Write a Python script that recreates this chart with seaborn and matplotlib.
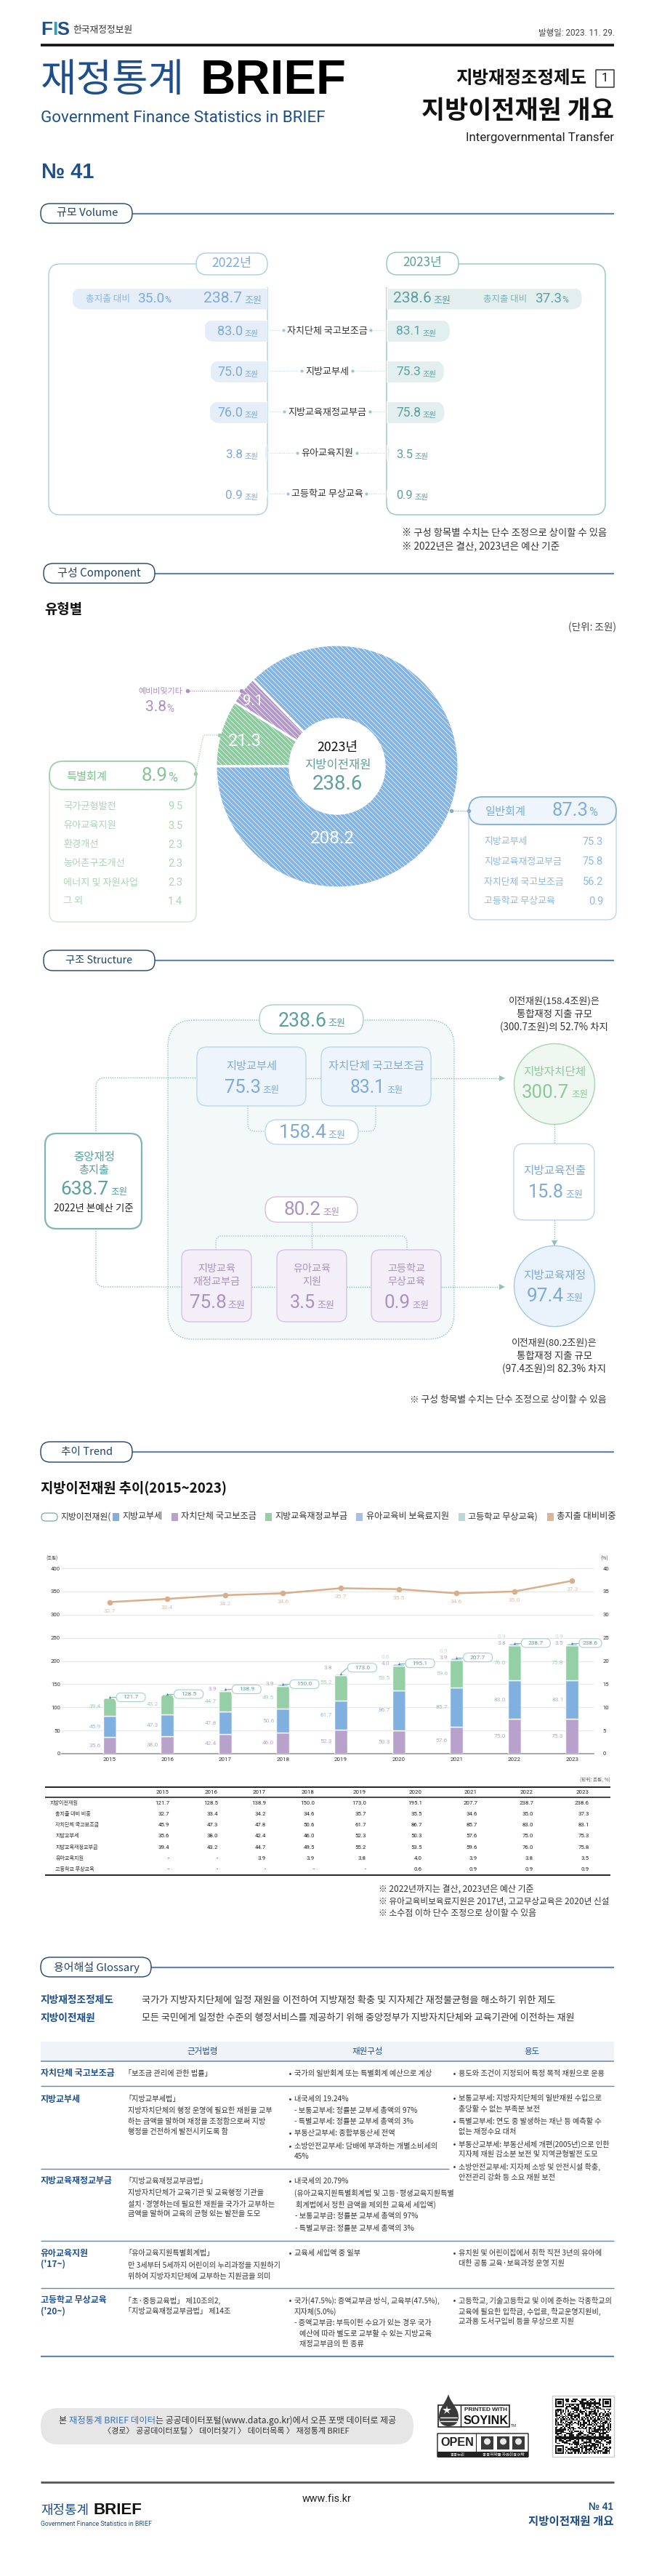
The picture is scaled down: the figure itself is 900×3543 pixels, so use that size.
import numpy as np
import pandas as pd
import matplotlib
matplotlib.use('Agg')
import matplotlib.pyplot as plt
import seaborn as sns
from matplotlib.patches import FancyBboxPatch, Rectangle, Circle, PathPatch
from matplotlib.path import Path
from matplotlib.transforms import IdentityTransform
import warnings, logging
warnings.filterwarnings('ignore')
logging.getLogger('matplotlib.font_manager').setLevel(logging.ERROR)

# ---------- data ----------
vol_labels = ['자치단체 국고보조금', '지방교부세', '지방교육재정교부금', '유아교육지원', '고등학교 무상교육']
vol_2022 = [83.0, 75.0, 76.0, 3.8, 0.9]
vol_2023 = [83.1, 75.3, 75.8, 3.5, 0.9]
vol_total_2022 = 238.7
vol_total_2023 = 238.6
share_2022 = 35.0
share_2023 = 37.3

pie_labels = ['특별회계', '예비비및기타', '일반회계']
pie_values = [21.3, 9.1, 208.2]
special_items = ['국가균형발전', '유아교육지원', '환경개선', '농어촌구조개선', '에너지 및 자원사업', '그 외']
special_vals = ['9.5', '3.5', '2.3', '2.3', '2.3', '1.4']
general_items = ['지방교부세', '지방교육재정교부금', '자치단체 국고보조금', '고등학교 무상교육']
general_vals = ['75.3', '75.8', '56.2', '0.9']

years = ['2015', '2016', '2017', '2018', '2019', '2020', '2021', '2022', '2023']
total = [121.7, 128.5, 138.9, 150.0, 173.0, 195.1, 207.7, 238.7, 238.6]
ratio = [32.7, 33.4, 34.2, 34.6, 35.7, 35.5, 34.6, 35.0, 37.3]
subsidy = [45.9, 47.3, 47.8, 50.6, 61.7, 86.7, 85.7, 83.0, 83.1]
grant = [35.6, 38.0, 42.4, 46.0, 52.3, 50.3, 57.6, 75.0, 75.3]
edu = [39.4, 43.2, 44.7, 49.5, 55.2, 53.5, 59.6, 76.0, 75.8]
child = [None, None, 3.9, 3.9, 3.8, 4.0, 3.9, 3.8, 3.5]
highsch = [None, None, None, None, None, 0.6, 0.9, 0.9, 0.9]
table_rows = ['지방이전재원', '총지출 대비 비중', '자치단체 국고보조금', '지방교부세',
              '지방교육재정교부금', '유아교육지원', '고등학교 무상교육']

# ---------- setup ----------
sns.set_theme(style='white')
KR = ['Noto Sans CJK KR', 'DejaVu Sans']
NR = ['Roboto', 'Noto Sans CJK KR', 'DejaVu Sans']
LB = ['Liberation Sans', 'DejaVu Sans']
plt.rcParams['font.family'] = KR
plt.rcParams['axes.unicode_minus'] = False
plt.rcParams['hatch.linewidth'] = 0.5

NAVY = '#1f4f8a'; BLUE = '#7daad8'; TEAL = '#5b9f9f'; PURPLE = '#a892c4'; GREEN = '#8fc79e'
C_BLUE = '#7fb0e0'; C_PUR = '#b8a1cb'; C_GRN = '#94cfa5'; C_PERI = '#aabfe4'; C_PALE = '#b9d8d6'; C_TAN = '#d9ae8a'
LINE = '#6685ad'; TXT = '#333333'

W, H = 900, 3543
fig = plt.figure(figsize=(W / 100, H / 100), dpi=100, facecolor='white')
R = fig.canvas.get_renderer()

def layer(z):
    a = fig.add_axes([0, 0, 1, 1], zorder=z)
    a.set_xlim(0, W); a.set_ylim(H, 0); a.axis('off'); a.patch.set_alpha(0)
    return a
bg = layer(0)
fg = layer(5)

def axpx(x0, y0, x1, y1, z=2):
    a = fig.add_axes([x0 / W, 1 - y1 / H, (x1 - x0) / W, (y1 - y0) / H], zorder=z)
    a.patch.set_alpha(0)
    return a

def T(x, y, s, pt, c=TXT, ha='left', w='normal', fam=KR, va='center', ax=None):
    return (ax or fg).text(x, y, s, fontsize=pt, color=c, ha=ha, va=va, fontweight=w, family=fam)

def fit(x0, x1, y, s, c=TXT, w='normal', fam=KR, ax=None, va='center'):
    t = (ax or fg).text(x0, y, s, fontsize=10, color=c, ha='left', va=va, fontweight=w, family=fam)
    size = 10.0
    for _ in range(4):
        wd = t.get_window_extent(R).width
        size *= (x1 - x0) / wd
        t.set_fontsize(size)
    return t

def val(x0, x1, ux0, ux1, y, s, c, unit='조원'):
    fit(x0, x1, y, s, c, fam=NR)
    fit(ux0, ux1, y + 3, unit, c)

def rbox(x0, y0, x1, y1, r, fc='none', ec='none', lw=1, ls='-', z=1, ax=None):
    p = FancyBboxPatch((x0, y0), x1 - x0, y1 - y0, boxstyle=f'round,pad=0,rounding_size={r}',
                       fc=fc, ec=ec, lw=lw, ls=ls, zorder=z)
    (ax or bg).add_patch(p)
    return p

def rline(pts, r=8, c='#8fc0bd', lw=1, ls=(0, (1, 1.2)), z=2, ax=None):
    pts = [np.array(p, float) for p in pts]
    v = [pts[0]]; code = [Path.MOVETO]
    for i in range(1, len(pts) - 1):
        a, b, d = pts[i - 1], pts[i], pts[i + 1]
        ra = min(r, np.linalg.norm(a - b) / 2); rd = min(r, np.linalg.norm(d - b) / 2)
        v += [b + (a - b) / np.linalg.norm(a - b) * ra, b, b + (d - b) / np.linalg.norm(d - b) * rd]
        code += [Path.LINETO, Path.CURVE3, Path.CURVE3]
    v.append(pts[-1]); code.append(Path.LINETO)
    (ax or bg).add_patch(PathPatch(Path(v, code), fc='none', ec=c, lw=lw, ls=ls, zorder=z))

def section(x0, x1, y0, y1, s, tx0, tx1):
    bg.plot([x1, 845], [(y0 + y1) / 2] * 2, color=LINE, lw=1.6, zorder=1, solid_capstyle='butt')
    rbox(x0, y0, x1, y1, 13, fc='white', ec='#1f4466', lw=1, z=2)
    fit(tx0, tx1, (y0 + y1) / 2, s, '#1f4466')

def round_bar(patch, side, r):
    b = patch.get_window_extent(R)
    x0, y0, x1, y1 = b.x0, b.y0, b.x1, b.y1
    e = 2 * r + 10
    if side == 'left': x1 += e
    if side == 'right': x0 -= e
    p = FancyBboxPatch((x0, y0), x1 - x0, y1 - y0, boxstyle=f'round,pad=0,rounding_size={r}',
                       transform=IdentityTransform())
    patch.set_clip_path(p)

# ---------- header ----------
fit(56, 72, 41, 'F', NAVY, 'bold', LB)
T(75.5, 41, 'I', 19, '#2f9fc4', ha='center', w='bold', fam=LB)
fit(78, 95, 41, 'S', NAVY, 'bold', LB)
fit(100, 182, 41, '한국재정정보원', '#333333')
fit(741, 845, 45, '발행일: 2023. 11. 29.', '#444444', fam=NR)
bg.plot([56, 845], [61.5, 61.5], color='#111111', lw=2.6, solid_capstyle='butt')
fit(56, 254, 111, '재정통계', NAVY)
fit(276, 477, 112, 'BRIEF', '#000000', 'bold', LB)
fit(56, 448, 163, 'Government Finance Statistics in BRIEF', NAVY, fam=NR)
fit(627, 807, 108, '지방재정조정제도', '#111111', 'bold')
rbox(820, 96, 845, 120, 0, fc='white', ec='#222222', lw=1)
T(832.5, 108, '1', 12, '#111111', ha='center', fam=NR)
fit(580, 845, 153, '지방이전재원 개요', '#111111', 'bold')
fit(641, 845, 189, 'Intergovernmental Transfer', '#222222', fam=NR)
fit(57, 129, 237, '№ 41', NAVY, 'bold', LB)

# ---------- volume ----------
section(56, 182, 280, 307, '규모 Volume', 78, 162)
PB = '#a9cde8'; PT = '#93c4c4'
rline([(270, 363), (67, 363), (67, 708), (368, 708), (368, 395)], r=16, c=PB, lw=1, ls='-', z=3)
rline([(631, 363), (833, 363), (833, 708), (532, 708), (532, 395)], r=16, c=PT, lw=1, ls='-', z=3)
rbox(270, 348, 368, 378, 15, fc='white', ec=PB, lw=1, z=4)
rbox(532, 347, 631, 378, 15, fc='white', ec=PT, lw=1, z=4)
fit(291, 346, 362, '2022년', BLUE)
fit(554, 608, 361, '2023년', TEAL)

def hbars(vals, x0, x1, xmax, y0, y1, color, invert):
    a = axpx(x0, y0, x1, y1)
    sns.barplot(x=vals, y=[str(i) for i in range(len(vals))], orient='h', color=color,
                saturation=1, width=30 / ((y1 - y0) / len(vals)), ax=a)
    a.set_xlim((xmax, 0) if invert else (0, xmax))
    a.set_ylim(len(vals) - 0.5, -0.5)
    a.axis('off')
    for p in a.patches:
        round_bar(p, 'left' if invert else 'right', 15)

PX_T = 269 / 238.7; PX_I = 1.05
hbars([vol_total_2022], 368 - 270, 368, 270 / PX_T, 395, 426, '#e4edf8', True)
hbars([vol_total_2023], 532, 532 + 270, 270 / PX_T, 395, 426, '#e3efef', False)
hbars(vol_2022, 368 - 150, 368, 150 / PX_I, 427, 707, '#e4edf8', True)
hbars(vol_2023, 532, 532 + 150, 150 / PX_I, 427, 707, '#e3efef', False)

vy = [455, 511, 567, 624, 680]
fit(118, 179, 411, '총지출 대비', '#8cb6de')
fit(189, 226, 411, f'{share_2022:.1f}', BLUE, fam=NR); fit(226, 235, 413, '%', BLUE, fam=NR)
val(280, 333, 336, 360, 411, f'{vol_total_2022:.1f}', BLUE)
val(541, 594, 596, 620, 411, f'{vol_total_2023:.1f}', TEAL)
fit(665, 725, 411, '총지출 대비', '#79b3b3')
fit(736, 773, 411, f'{share_2023:.1f}', TEAL, fam=NR); fit(773, 782, 413, '%', TEAL, fam=NR)
for i, (lab, a, b) in enumerate(zip(vol_labels, vol_2022, vol_2023)):
    y = vy[i]
    sm = a < 10
    val(310 if sm else 299, 334, 336, 355, y + 1, f'{a:.1f}', BLUE)
    val(545, 568 if sm else 579, 570 if sm else 581, 589 if sm else 600, y + 1, f'{b:.1f}', TEAL)
    t = T(450, y, lab, 9.4, '#333333', ha='center')
    wd = t.get_window_extent(R).width / 2
    fg.add_patch(Rectangle((450 - wd - 9, y - 9), 2 * wd + 18, 18, fc='white', ec='none', zorder=1))
    t.set_zorder(3)
    rline([(371, y - 1), (529, y - 1)], c='#c5dcdc', lw=.8, z=0.5, ax=fg)
    fg.plot([450 - wd - 5], [y - 1], 'o', ms=3, color='#9fc3e6', mew=0, zorder=4)
    fg.plot([450 + wd + 5], [y - 1], 'o', ms=3, color='#93c8c6', mew=0, zorder=4)
fit(553, 833, 733, '※ 구성 항목별 수치는 단수 조정으로 상이할 수 있음', TXT)
fit(553, 769, 751, '※ 2022년은 결산, 2023년은 예산 기준', TXT)

# ---------- component ----------
section(60, 213, 775, 802, '구성 Component', 79, 194)
fit(61, 113, 838, '유형별', '#111111', 'bold')
fit(782, 848, 863, '(단위: 조원)', '#444444')

apie = axpx(464 - 167, 1054 - 167, 464 + 167, 1054 + 167)
apie.pie(pie_values, startangle=180, counterclock=False, radius=1,
         colors=['#8ccb9f', '#b298c8', '#84b4e4'],
         wedgeprops=dict(width=1 - 0.39, edgecolor='white', linewidth=2.2, hatch='\\' * 5))
apie.set_xlim(-1, 1); apie.set_ylim(-1, 1)
for w_ in apie.patches:
    w_.set_clip_on(False)

fit(427, 488, 1154, f'{pie_values[2]:.1f}', 'white', fam=NR)
fit(314, 360, 1020, f'{pie_values[0]:.1f}', 'white', fam=NR)
fit(334, 362, 964, f'{pie_values[1]:.1f}', 'white', fam=NR)
fit(436, 492, 1028, '2023년', '#111111')
fit(419, 510, 1053, '지방이전재원', TEAL)
fit(430, 499, 1079, '238.6', TEAL, fam=NR)
fit(190, 251, 951, pie_labels[1], PURPLE)
fit(200, 229, 973, '3.8', PURPLE, fam=NR); fit(229, 239, 975, '%', PURPLE, fam=NR)
rline([(258, 950), (332, 950)], c=PURPLE, lw=.9, z=4, ax=fg)
fg.plot([258, 332], [950, 950], 'o', ms=4, color=PURPLE, mew=0)

CGE = '#9ccfa8'; CBE = '#7fadd8'
rbox(68, 1060, 270, 1268, 12, fc='white', ec='#cfe6d4', lw=1)
rbox(68, 1047, 270, 1086, 19, fc='white', ec=CGE, lw=1.3)
fit(91, 147, 1068, pie_labels[0], '#7fbf8f')
fit(195, 231, 1067, '8.9', '#86c496', fam=NR); fit(231, 244, 1070, '%', '#86c496', fam=NR)
sy = [1109, 1136, 1162, 1188, 1214, 1240]
for y, a, b in zip(sy, special_items, special_vals):
    T(87, y, a, 9.5, '#a9d6b4')
    T(251, y, b, 10.5, '#a9d6b4', ha='right', fam=NR)
rline([(269, 1064), (280, 1011), (302, 1011)], r=1, c=CGE, lw=.9, z=4, ax=fg)
fg.plot([269, 302], [1064, 1011], 'o', ms=4, color=CGE, mew=0)

rbox(645, 1110, 848, 1265, 12, fc='white', ec='#bcd6ee', lw=1)
rbox(645, 1096, 848, 1134, 19, fc='#eef5fc', ec=CBE, lw=1.3)
fit(668, 724, 1116, pie_labels[2], CBE)
fit(760, 810, 1115, '87.3', CBE, fam=NR); fit(810, 822, 1118, '%', CBE, fam=NR)
gy = [1158, 1185, 1213, 1240]
for y, a, b in zip(gy, general_items, general_vals):
    T(666, y, a, 9.3, '#8db9e4')
    T(830, y, b, 10.5, '#8db9e4', ha='right', fam=NR)
rline([(621, 1115), (645, 1115)], c=CBE, lw=.9, z=4, ax=fg)
fg.plot([621, 645], [1115, 1115], 'o', ms=4, color=CBE, mew=0)

# ---------- structure ----------
section(60, 213, 1307, 1335, '구조 Structure', 90, 182)
DOT = '#8fc0bd'
rbox(231, 1403, 625, 1842, 36, fc='#f3f9f8', ec=DOT, lw=1, ls=(0, (1, 1.2)))
rline([(132, 1559), (132, 1482.5), (271, 1482.5)], r=12)
rline([(421, 1482.5), (442, 1482.5)], r=0)
rline([(593, 1482.5), (690, 1482.5)], r=0)
rline([(132, 1690), (132, 1770), (250, 1770)], r=12)
rline([(346, 1770), (381, 1770)], r=0)
rline([(477, 1770), (511, 1770)], r=0)
rline([(607, 1770), (690, 1770)], r=0)
for yy in (1482.5, 1770):
    bg.plot([691], [yy], marker='>', ms=6, color='#8fc0bd', mew=0, zorder=3)
rline([(341, 1521), (341, 1556), (365, 1556)], r=10, c='#9fc0de')
rline([(517, 1521), (517, 1556), (493, 1556)], r=10, c='#9fc0de')
rline([(297, 1719), (297, 1700), (560, 1700), (560, 1719)], r=8, c='#9fc0de')
rline([(429, 1681), (429, 1719)], r=0, c='#9fc0de')
rline([(763, 1546), (763, 1573)], r=0)
rline([(763, 1678), (763, 1708)], r=0)
bg.plot([763], [1710], marker='v', ms=6, color='#8fc0bd', mew=0, zorder=3)

rbox(357, 1382, 500, 1422, 20, fc='white', ec='#a6d0cc', lw=1, z=3)
val(383, 450, 451, 475, 1404, '238.6', TEAL)
BE = '#bcd6ee'; BF = '#edf4fc'
rbox(271, 1440, 421, 1521, 14, fc=BF, ec=BE, z=3)
rbox(442, 1440, 593, 1521, 14, fc=BF, ec=BE, z=3)
fit(311, 381, 1467, '지방교부세', BLUE)
fit(452, 583, 1467, '자치단체 국고보조금', BLUE)
val(309, 359, 361, 384, 1496, '75.3', BLUE)
val(482, 530, 532, 554, 1496, '83.1', BLUE)
rbox(365, 1540, 493, 1574, 17, fc='white', ec=BE, z=3)
val(384, 450, 451, 475, 1558, '158.4', BLUE)
rbox(62, 1559, 195, 1690, 16, fc='white', ec='#7fb5b3', lw=1.6, z=3)
fit(101, 158, 1591, '중앙재정', TEAL)
fit(108, 150, 1609.5, '총지출', TEAL)
val(83, 149, 152, 175, 1636, '638.7', TEAL)
fit(74, 184, 1662, '2022년 본예산 기준', '#222222')
PE = '#d2c3e2'; PF = '#f3eef8'
rbox(365, 1646, 492, 1681, 17, fc='white', ec=PE, z=3)
val(391, 442, 444, 467, 1664, '80.2', PURPLE)
pb = [(250, 346, ['지방교육', '재정교부금'], '75.8', (261, 312, 313, 337)),
      (381, 477, ['유아교육', '지원'], '3.5', (399, 434, 436, 460)),
      (511, 607, ['고등학교', '무상교육'], '0.9', (529, 565, 567, 590))]
for x0, x1, labs, v, q in pb:
    rbox(x0, 1719, x1, 1818, 12, fc=PF, ec=PE, z=3)
    for y, s in zip((1745, 1763), labs):
        T((x0 + x1) / 2, y, s, 10.2, PURPLE, ha='center')
    val(q[0], q[1], q[2], q[3], 1792, v, PURPLE)
bg.add_patch(Circle((763, 1491), 55.5, fc='#eef7f0', ec='#a8d4b2', lw=1, zorder=3))
fit(720, 806, 1474, '지방자치단체', GREEN)
val(718, 783, 786, 809, 1503, '300.7', GREEN)
rbox(707, 1573, 818, 1678, 14, fc='white', ec=BE, z=3)
fit(720, 806, 1610, '지방교육전출', BLUE)
val(727, 776, 778, 802, 1640, '15.8', BLUE)
bg.add_patch(Circle((763, 1769), 55.5, fc='#eaf3fb', ec='#a5c8e8', lw=1, zorder=3))
fit(720, 806, 1754, '지방교육재정', BLUE)
val(725, 776, 778, 802, 1783, '97.4', BLUE)
for y, s, a, b in [(1377, '이전재원(158.4조원)은', 700, 826), (1395, '통합재정 지출 규모', 711, 815),
                   (1413, '(300.7조원)의 52.7% 차지', 688, 837), (1847, '이전재원(80.2조원)은', 704, 822),
                   (1865, '통합재정 지출 규모', 711, 815), (1883, '(97.4조원)의 82.3% 차지', 691, 834)]:
    fit(a, b, y, s, TXT)
fit(564, 836, 1925, '※ 구성 항목별 수치는 단수 조정으로 상이할 수 있음', TXT)

# ---------- trend ----------
section(56, 182, 1983, 2011, '추이 Trend', 84, 155)
fit(56, 312, 2046, '지방이전재원 추이(2015~2023)', '#111111', 'bold')
rbox(57, 2081, 79, 2092, 5.5, fc='white', ec='#7fb5b3', lw=1)
fit(83, 152, 2086, '지방이전재원(', TXT)
leg = [(155, C_BLUE, '지방교부세', 168, 223), (236, C_PUR, '자치단체 국고보조금', 249, 352),
       (365, C_GRN, '지방교육재정교부금', 378, 478), (490, C_PERI, '유아교육비 보육료지원', 504, 618),
       (631, C_PALE, '고등학교 무상교육)', 644, 740), (753, '#dcb596', '총지출 대비비중', 766, 848)]
for sx, c, s, a, b in leg:
    bg.add_patch(Rectangle((sx, 2081), 8.5, 11, fc=c, ec='none'))
    fit(a, b, 2086, s, TXT)

X0, X1 = 85, 817
a1 = axpx(X0, 2157, X1, 2412, z=2)
df = pd.DataFrame({'year': years, 'grant': grant, 'subsidy': subsidy, 'edu': edu,
                   'child': child, 'high': highsch, 'total': total, 'ratio': ratio}).astype({'child': float, 'high': float})
stack = [('grant', C_PUR), ('subsidy', C_BLUE), ('edu', C_GRN), ('child', C_PERI), ('high', C_PALE)]
bottom = np.zeros(len(years))
for col, c in stack:
    h = df[col].fillna(0).to_numpy()
    sns.barplot(data=df.assign(h=h), x='year', y='h', color=c, saturation=1, width=18 / 79.6,
                bottom=bottom, ax=a1, zorder=3)
    bottom = bottom + h
a1.set_xlim((X0 - 150.6) / 79.6, (X1 - 150.6) / 79.6)
a1.set_ylim(0, 400)
a1.set_yticks(range(0, 401, 50))
a1.grid(axis='y', color='#d4d4d4', lw=.8, ls=(0, (1, 0.8)))
a1.set_axisbelow(True)
a1.set_xlabel(''); a1.set_ylabel('')
for s in ('top', 'left', 'right'):
    a1.spines[s].set_visible(False)
a1.spines['bottom'].set_color('#999999'); a1.spines['bottom'].set_linewidth(1.2)
a1.tick_params(axis='both', length=0, colors='#333333')
a1.tick_params(axis='y', pad=1.5, labelsize=5.6)
a1.tick_params(axis='x', pad=3.5, labelsize=5.8)
for t in a1.get_yticklabels() + a1.get_xticklabels():
    t.set_family(NR)
for i, col in enumerate(years):
    ptop = a1.transData.transform((i, bottom[i]))[1]
    for k in range(len(stack)):
        p = a1.patches[k * 9 + i]
        b = p.get_window_extent(R)
        base = a1.transData.transform((0, 0))[1]
        clip = FancyBboxPatch((b.x0, base - 30), b.x1 - b.x0, ptop - base + 30,
                              boxstyle='round,pad=0,rounding_size=8.5', transform=IdentityTransform())
        p.set_clip_path(clip)

a2 = a1.twinx()
a2.patch.set_alpha(0)
sns.lineplot(x=np.arange(len(years)), y=ratio, color=C_TAN, lw=1.8, marker='o', ms=5.5, mew=0,
             ax=a2, errorbar=None, zorder=4)
a2.set_xlim(a1.get_xlim()); a2.set_ylim(0, 40)
a2.set_yticks(range(0, 41, 5))
a2.tick_params(axis='y', length=0, pad=9, labelsize=5.6, colors='#333333')
for t in a2.get_yticklabels():
    t.set_family(NR)
for s in a2.spines.values():
    s.set_visible(False)
a2.set_ylabel('')

LS = 6.0
ypx = lambda v: 2412 - v * 255 / 400
xpx = lambda i: 150.6 + 79.6 * i
T(72, 2144, '(조원)', 4.6, '#444444', ha='center')
T(832, 2144, '(%)', 4.8, '#444444', ha='center')
for i, r_ in enumerate(ratio):
    T(xpx(i), ypx(r_ * 10) + 12, f'{r_:.1f}', LS, '#e2bfa2', ha='center', fam=NR)
nudge = {4: -8}
for i in range(len(years)):
    L = xpx(i) - 12
    T(L, ypx(grant[i] / 2), f'{grant[i]:.1f}', LS, '#bba6cf', ha='right', fam=NR)
    T(L, ypx(grant[i] + subsidy[i] / 2), f'{subsidy[i]:.1f}', LS, '#93bce5', ha='right', fam=NR)
    T(L, ypx(grant[i] + subsidy[i] + edu[i] / 2) + nudge.get(i, 0), f'{edu[i]:.1f}', LS, '#a3d3ae', ha='right', fam=NR)
    top = ypx(total[i]) + nudge.get(i, 0)
    if child[i] is not None:
        T(L, top, f'{child[i]:.1f}', LS, '#b5a6cf', ha='right', fam=NR)
    if highsch[i] is not None:
        T(L, top - 8.5, f'{highsch[i]:.1f}', LS, '#c3dcda', ha='right', fam=NR)
    pw = 31 if i == 8 else 40
    px0 = xpx(i) + 9.5
    rbox(px0, top - 6, px0 + pw, top + 6, 6, fc='white', ec='#a8d0d0', lw=.8, z=6, ax=fg)
    t = T(px0 + pw / 2, top, f'{total[i]:.1f}', LS, TEAL, ha='center', fam=NR); t.set_zorder(7)
    fg.plot([xpx(i), px0], [ypx(total[i]), top], color='#7fb5b3', lw=.7, zorder=5)
    fg.plot([xpx(i)], [ypx(total[i])], marker='^', ms=2.5, color='#4f8fa0', mew=0, zorder=5)

# data table
T(840, 2448, '(단위: 조원, %)', 4.8, '#555555', ha='right')
for y, lw_ in ((2458, 1.4), (2472, 1.2), (2579, 1.4)):
    bg.plot([61.5, 840], [y, y], color='#222222', lw=lw_, solid_capstyle='butt')
colx = [224, 291, 357, 424, 495, 572, 648, 725, 802]
for x, yr in zip(colx, years):
    T(x, 2465, yr, 5.7, '#222222', ha='center', fam=NR)
rowy = [2480, 2495, 2510.3, 2525.3, 2541, 2556, 2571]
rows = [total, ratio, subsidy, grant, edu, child, highsch]
for j, (y, name, vals) in enumerate(zip(rowy, table_rows, rows)):
    T(69 if j == 0 else 76.5, y, name, 5.1, '#333333')
    for x, v in zip(colx, vals):
        T(x + 9, y, '-' if v is None else f'{v:.1f}', 5.7, '#222222', ha='right', fam=NR)
for y, s, b in [(2598, '※ 2022년까지는 결산, 2023년은 예산 기준', 735),
                (2615, '※ 유아교육비보육료지원은 2017년, 고교무상교육은 2020년 신설', 839),
                (2631, '※ 소수점 이하 단수 조정으로 상이할 수 있음', 737)]:
    fit(521, b, y, s, TXT)

# ---------- glossary ----------
section(56, 208, 2692, 2719, '용어해설 Glossary', 74, 192)
fit(56, 157, 2751, '지방재정조정제도', NAVY, 'bold')
fit(56, 132, 2776, '지방이전재원', NAVY, 'bold')
fit(195, 762, 2751, '국가가 지방자치단체에 일정 재원을 이전하여 지방재정 확충 및 지자체간 재정불균형을 해소하기 위한 제도', TXT)
fit(195, 787, 2776, '모든 국민에게 일정한 수준의 행정서비스를 제공하기 위해 중앙정부가 지방자치단체와 교육기관에 이전하는 재원', TXT)
bg.add_patch(Rectangle((56, 2808), 789, 27, fc='#f0f3f8', ec='none'))
for x, s in ((279, '근거법령'), (506, '재원구성'), (732, '용도')):
    T(x, 2821, s, 8.3, NAVY, ha='center')
for y, x1, lw_ in ((2835, 845, 1.1), (2869, 845, 1), (2983, 618, 1), (3082, 845, 1), (3147, 845, 1), (3241, 845, 1.6)):
    bg.plot([56, x1], [y, y], color='#6685ad', lw=lw_, solid_capstyle='butt')

GS = 7.3
heads = [(2852, '자치단체 국고보조금'), (2887, '지방교부세'), (3000, '지방교육재정교부금'),
         (3099, '유아교육지원'), (3114, "('17~)"), (3164, '고등학교 무상교육'), (3179, "('20~)")]
for y, s in heads:
    T(56, y, s, 8.6, NAVY, w='bold')
col2 = [(171, 2852, '「보조금 관리에 관한 법률」'),
        (171, 2887, '「지방교부세법」'),
        (176, 2903, '지방자치단체의 행정 운영에 필요한 재원을 교부'),
        (176, 2918, '하는 금액을 말하며 재정을 조정함으로써 지방'),
        (176, 2932, '행정을 건전하게 발전시키도록 함'),
        (171, 3000, '「지방교육재정교부금법」'),
        (176, 3016, '지방자치단체가 교육기관 및 교육행정 기관을'),
        (176, 3032, '설치·경영하는데 필요한 재원을 국가가 교부하는'),
        (176, 3045, '금액을 말하며 교육의 균형 있는 발전을 도모'),
        (171, 3099, '「유아교육지원특별회계법」'),
        (176, 3116, '만 3세부터 5세까지 어린이의 누리과정을 지원하기'),
        (176, 3131, '위하여 지방자치단체에 교부하는 지원금을 의미'),
        (171, 3164, '「초·중등교육법」 제10조의2,'),
        (171, 3179, '「지방교육재정교부금법」 제14조')]
for x, y, s in col2:
    T(x, y, s, GS, TXT)
col3 = [(405, 2852, '국가의 일반회계 또는 특별회계 예산으로 계상', 1),
        (405, 2887, '내국세의 19.24%', 1),
        (405, 2903, '- 보통교부세: 정률분 교부세 총액의 97%', 0),
        (405, 2918, '- 특별교부세: 정률분 교부세 총액의 3%', 0),
        (405, 2934, '부동산교부세: 종합부동산세 전액', 1),
        (405, 2952, '소방안전교부세: 담배에 부과하는 개별소비세의', 1),
        (405, 2966, '45%', 0),
        (405, 3000, '내국세의 20.79%', 1),
        (405, 3016, '(유아교육지원특별회계법 및 고등·평생교육지원특별', 0),
        (407, 3032, '회계법에서 정한 금액을 제외한 교육세 세입액)', 0),
        (406, 3048, '- 보통교부금: 정률분 교부세 총액의 97%', 0),
        (406, 3065, '- 특별교부금: 정률분 교부세 총액의 3%', 0),
        (405, 3099, '교육세 세입액 중 일부', 1),
        (405, 3164, '국가(47.5%): 증액교부금 방식, 교육부(47.5%),', 1),
        (405, 3179, '지자체(5.0%)', 0),
        (405, 3195, '- 증액교부금: 부득이한 수요가 있는 경우 국가', 0),
        (412, 3210, '예산에 따라 별도로 교부할 수 있는 지방교육', 0),
        (412, 3224, '재정교부금의 한 종류', 0)]
col4 = [(631, 2852, '용도와 조건이 지정되어 특정 목적 재원으로 운용', 1),
        (631, 2886, '보통교부세: 지방자치단체의 일반재원 수입으로', 1),
        (631, 2901, '충당할 수 없는 부족분 보전', 0),
        (631, 2918, '특별교부세: 연도 중 발생하는 재난 등 예측할 수', 1),
        (631, 2932, '없는 재정수요 대처', 0),
        (631, 2949, '부동산교부세: 부동산세제 개편(2005년)으로 인한', 1),
        (631, 2963, '지자체 재원 감소분 보전 및 지역균형발전 도모', 0),
        (631, 2980, '소방안전교부세: 지자체 소방 및 안전시설 확충,', 1),
        (631, 2995, '안전관리 강화 등 소요 재원 보전', 0),
        (631, 3099, '유치원 및 어린이집에서 취학 직전 3년의 유아에', 1),
        (631, 3113, '대한 공통 교육·보육과정 운영 지원', 0),
        (631, 3164, '고등학교, 기술고등학교 및 이에 준하는 각종학교의', 1),
        (631, 3179, '교육에 필요한 입학금, 수업료, 학교운영지원비,', 0),
        (631, 3193, '교과용 도서구입비 등을 무상으로 지원', 0)]
for x, y, s, b in col3 + col4:
    T(x, y, s, GS, TXT)
    if b:
        bg.plot([x - 6], [y], 'o', ms=2, color='#333333', mew=0)

# ---------- banner / logos ----------
rbox(56, 3312, 569, 3362, 24, fc='#e6e6e6', ec='none')
fit(80, 91, 3329, '본', TXT)
fit(95, 214, 3329, '재정통계 BRIEF 데이터', '#3f74b5')
fit(214, 545, 3329, '는 공공데이터포털(www.data.go.kr)에서 오픈 포맷 데이터로 제공', TXT)
fit(142, 483, 3344, '〈경로〉 공공데이터포털 〉 데이터찾기 〉 데이터목록 〉 재정통계 BRIEF', TXT)

# soy ink mark
rbox(603, 3308, 701, 3338, 0, fc='white', ec='#222222', lw=1.2)
bg.plot([634, 634], [3308, 3338], color='#222222', lw=1, zorder=2)
drop = Path([(617, 3293), (613, 3306), (604, 3312), (604, 3324), (604, 3335), (612, 3337), (617, 3337),
             (623, 3337), (631, 3335), (631, 3324), (631, 3312), (621, 3306), (617, 3293)],
            [Path.MOVETO] + [Path.CURVE4] * 12)
bg.add_patch(PathPatch(drop, fc='#3a3a3a', ec='none', zorder=3))
bg.plot([615], [3315], marker='*', ms=9, color='white', mew=0, zorder=4)
for yy in (3325, 3330):
    bg.plot([606, 629], [yy, yy], color='white', lw=1, zorder=4)
fit(639, 698, 3315, 'PRINTED WITH', '#222222', 'bold', LB)
fit(638, 700, 3329, 'SOYINK', '#111111', 'bold', LB)
fit(703, 711, 3337, 'TM', '#333333', fam=NR)
# open licence mark
rbox(602, 3347, 727, 3379, 0, fc='white', ec='#222222', lw=1)
bg.add_patch(Rectangle((602, 3372), 125, 7.5, fc='#222222', ec='none', zorder=2))
bg.add_patch(Rectangle((655, 3347), 1.2, 25, fc='#222222', ec='none', zorder=2))
fit(606, 652, 3360, 'OPEN', '#222222', 'bold', LB)
for x in (662, 684, 705):
    bg.add_patch(Rectangle((x, 3351), 17, 18, fc='#3a3a3a', ec='none', zorder=2))
    bg.add_patch(Circle((x + 8.5, 3358), 4.5, fc='#e8e8e8', ec='none', zorder=3))
fit(620, 640, 3376, '공공누리', 'white', ax=bg)
fit(664, 722, 3376, '공공저작물 자유이용허락', 'white', ax=bg)
# QR mark
bg.add_patch(Rectangle((760, 3295), 85, 84, fc='white', ec='#cccccc', lw=1))
aq = axpx(764, 3299, 841, 3375)
N = 45
I, J = np.mgrid[0:N, 0:N]
qr = ((I * I * 3 + J * J * 7 + I * J * 5 + (I ^ J)) % 7 < 4).astype(float)
for (a, b) in ((0, 0), (0, N - 7), (N - 7, 0)):
    qr[max(a - 1, 0):a + 8, max(b - 1, 0):b + 8] = 0
    qr[a:a + 7, b:b + 7] = 1
    qr[a + 1:a + 6, b + 1:b + 6] = 0
    qr[a + 2:a + 5, b + 2:b + 5] = 1
aq.imshow(qr, cmap='gray_r', interpolation='nearest', aspect='auto', vmin=0, vmax=1.1)
aq.axis('off')

# ---------- footer ----------
bg.plot([56, 845], [3414, 3414], color='#555555', lw=2, solid_capstyle='butt')
fit(416, 484, 3437, 'www.fis.kr', '#222222', fam=NR)
fit(56, 122, 3453, '재정통계', NAVY)
fit(128, 195, 3453, 'BRIEF', '#111111', 'bold', LB)
fit(56, 208, 3471, 'Government Finance Statistics in BRIEF', NAVY, fam=NR)
fit(810, 844, 3448, '№ 41', NAVY, 'bold', LB)
fit(727, 845, 3468, '지방이전재원 개요', NAVY, 'bold')

fig.savefig('out.png', dpi=100, facecolor='white')
